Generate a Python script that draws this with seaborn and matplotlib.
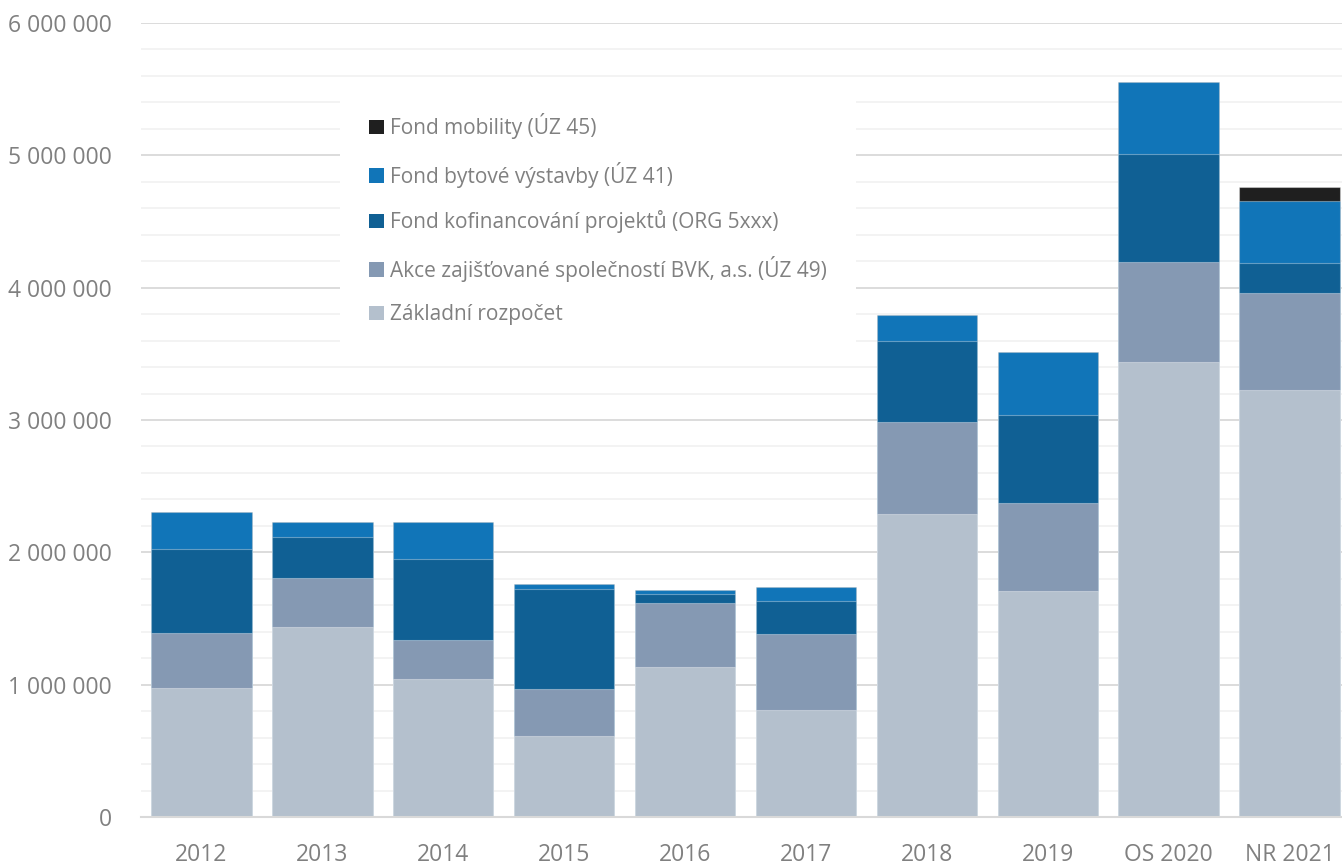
import numpy as np
import pandas as pd
import matplotlib
matplotlib.use("Agg")
import matplotlib.pyplot as plt
from matplotlib.patches import Patch
from matplotlib.ticker import MultipleLocator, FuncFormatter
import seaborn as sns

categories = ["2012", "2013", "2014", "2015", "2016", "2017", "2018", "2019", "OS 2020", "NR 2021"]

# values in CZK thousands, stacked bottom -> top
zakladni = [977, 1434, 1043, 612, 1137, 809, 2288, 1708, 3439, 3227]
bvk = [414, 372, 295, 358, 481, 574, 700, 668, 756, 736]
kofinancovani = [632, 308, 614, 751, 65, 247, 608, 660, 816, 222]
bytove = [282, 116, 278, 38, 33, 111, 198, 476, 542, 469]
mobility = [0, 0, 0, 0, 0, 0, 0, 0, 0, 106]

series_names = [
    "Základní rozpočet",
    "Akce zajišťované společností BVK, a.s. (ÚZ 49)",
    "Fond kofinancování projektů (ORG 5xxx)",
    "Fond bytové výstavby (ÚZ 41)",
    "Fond mobility (ÚZ 45)",
]
series_values = [zakladni, bvk, kofinancovani, bytove, mobility]
colors = ["#b4c0cd", "#8599b3", "#106094", "#1175b8", "#1f1f1f"]

sns.set_style("white")
plt.rcParams["font.family"] = ["Open Sans", "DejaVu Sans"]

text_color = "#808080"

df = pd.DataFrame({"kategorie": categories})
cum = np.zeros(len(categories))
for name, vals in zip(series_names, series_values):
    cum = cum + np.array(vals) * 1000
    df[name] = cum

fig = plt.figure(figsize=(13.42, 8.65), dpi=100)
ax = fig.add_axes([141 / 1342, 48 / 865, 1209 / 1342, 794 / 865])

# draw cumulative totals from the top series down so each layer covers the previous
for name, c in reversed(list(zip(series_names, colors))):
    sns.barplot(data=df, x="kategorie", y=name, order=categories, color=c,
                saturation=1, width=0.83, edgecolor=(1, 1, 1, 0.35),
                linewidth=0.8, ax=ax)

ax.set_ylim(0, 6_000_000)
ax.set_xlim(-0.5, 9.5)
ax.yaxis.set_major_locator(MultipleLocator(1_000_000))
ax.yaxis.set_minor_locator(MultipleLocator(200_000))
ax.yaxis.set_major_formatter(FuncFormatter(lambda v, p: f"{v:,.0f}".replace(",", " ")))
ax.grid(axis="y", which="major", color="#d9d9d9", linewidth=1.3)
ax.grid(axis="y", which="minor", color="#f2f2f2", linewidth=1.3)
ax.set_axisbelow(True)

for s in ["top", "right", "left"]:
    ax.spines[s].set_visible(False)
ax.spines["bottom"].set_color("#d9d9d9")
ax.spines["bottom"].set_linewidth(1.5)

ax.tick_params(axis="both", which="both", length=0, labelsize=16.5, labelcolor=text_color)
ax.tick_params(axis="y", pad=21)
ax.tick_params(axis="x", pad=19)
ax.set_xlabel("")
ax.set_ylabel("")

handles = [Patch(facecolor=c, edgecolor="none", label=n)
           for n, c in zip(series_names, colors)][::-1]
leg = fig.legend(handles=handles, loc="upper left",
                 bbox_to_anchor=(340 / 1342, 1 - 84 / 865),
                 fontsize=15, frameon=True, facecolor="white", edgecolor="none",
                 framealpha=1, borderpad=1.4, labelspacing=1.08,
                 handlelength=0.7, handleheight=0.7, handletextpad=0.3,
                 borderaxespad=0)
for t in leg.get_texts():
    t.set_color(text_color)

fig.savefig("out.png", dpi=100)
